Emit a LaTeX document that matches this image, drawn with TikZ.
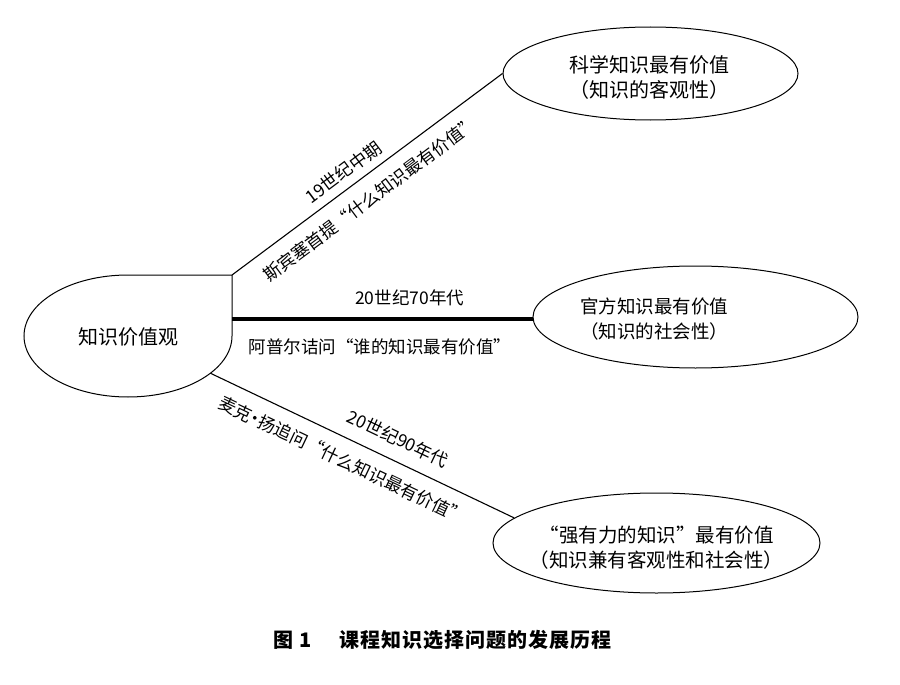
\documentclass[tikz,border=0pt]{standalone}
\usepackage{fontspec}
\setmainfont{Noto Sans CJK SC}
\newfontfamily\capfont[LetterSpace=5]{Noto Sans CJK SC}
\usetikzlibrary{shapes.geometric,calc}
\tikzset{
  bubble/.style={ellipse, draw, line width=1pt, inner sep=0pt},
  nodetext/.style={align=center, inner sep=0pt, font=\fontsize{19.5}{25}\selectfont},
  edgetext/.style={sloped, inner sep=0pt, font=\fontsize{17.5}{20}\selectfont},
  conn/.style={line width=1.1pt},
  thickconn/.style={line width=4pt}
}
\begin{document}
\begin{tikzpicture}[x=1pt,y=1pt]
\useasboundingbox (0,0) rectangle (900,-685);
% left node
\draw[line width=1pt] (232,-275) -- (128,-275)
  arc[start angle=90, end angle=360, x radius=104pt, y radius=61pt] -- cycle;
\node[nodetext, font=\fontsize{20}{25}\selectfont] (kv) at (128,-337) {知识价值观};
\coordinate (L1) at (232,-275);
\coordinate (L2) at (232,-319);
\coordinate (L3) at ({128+104*cos(-37.6)},{-336+61*sin(-37.6)});
% right nodes
\node[bubble, minimum width=295pt, minimum height=93pt] (e1) at (650.5,-73.5) {};
\node[nodetext, font=\fontsize{20}{25}\selectfont] (t1) at (649.5,-77.5) {科学知识最有价值\\（知识的客观性）};
\node[bubble, minimum width=325pt, minimum height=102pt] (e2) at (695.5,-317) {};
\node[nodetext, font=\fontsize{18.5}{25}\selectfont] (t2) at (654,-319) {官方知识最有价值\\（知识的社会性）};
\node[bubble, minimum width=327pt, minimum height=100pt] (e3) at (656.5,-543) {};
\node[nodetext] (t3) at (656.5,-547.5) {“强有力的知识”最有价值\\（知识兼有客观性和社会性）};
% connectors
\draw[conn] (L1) -- (e1.west)
  node[edgetext, pos=0.447, above=7.5pt] (a1) {19世纪中期}
  node[edgetext, pos=0.464, below=12.75pt] (b1) {斯宾塞首提“什么知识最有价值”};
\draw[thickconn] (L2) -- (L2 -| e2.west)
  node[edgetext, pos=0.591, above=11.25pt] (a2) {20世纪70年代}
  node[edgetext, pos=0.492, below=17.25pt] (b2) {阿普尔诘问“谁的知识最有价值”};
\draw[conn] (L3) -- (e3.170.5)
  node[edgetext, pos=0.587, above=12.85pt] (a3) {20世纪90年代}
  node[edgetext, pos=0.465, below=12.75pt] (b3) {麦克\kern-.25em·\kern-.25em扬追问“什么知识最有价值”};
% caption
\node[inner sep=0pt, font=\capfont\bfseries\fontsize{20}{24}\selectfont] (cap) at (442.5,-640) {图\hspace{0.3em}1\hspace{1.4em}课程知识选择问题的发展历程};
\end{tikzpicture}
\end{document}
